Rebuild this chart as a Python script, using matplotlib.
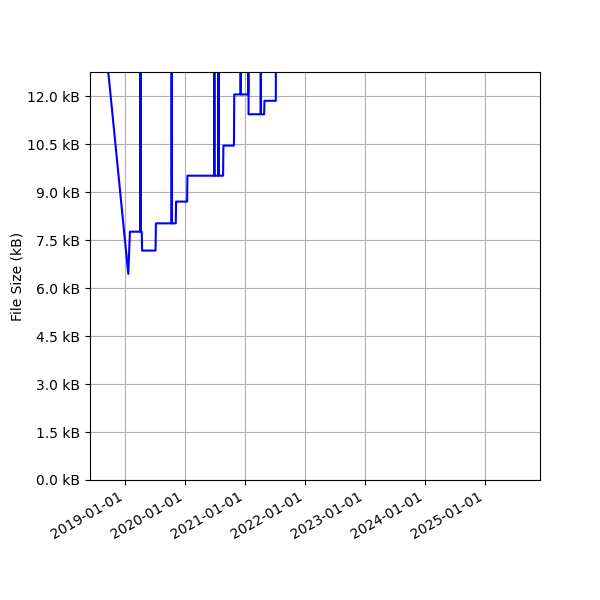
import matplotlib
matplotlib.use("Agg")
import matplotlib.pyplot as plt
import matplotlib.dates as mdates
from matplotlib.ticker import FuncFormatter, MultipleLocator
import pandas as pd

# Commit dates and file sizes (kB); values above ~12.75 fall outside the view
dates = [
    "2018-09-01", "2019-01-21", "2019-01-31",
    "2019-04-03", "2019-04-05", "2019-04-07", "2019-04-13", "2019-04-15",
    "2019-07-06", "2019-07-08",
    "2019-10-11", "2019-10-12", "2019-10-13",
    "2019-11-06", "2019-11-08",
    "2020-01-14", "2020-01-16",
    "2020-06-27", "2020-06-28", "2020-06-29",
    "2020-07-22", "2020-07-23", "2020-07-24",
    "2020-08-20", "2020-08-22",
    "2020-10-25", "2020-10-27",
    "2020-12-04", "2020-12-05", "2020-12-06",
    "2021-01-20", "2021-01-21", "2021-01-22",
    "2021-04-05", "2021-04-06", "2021-04-08",
    "2021-04-27", "2021-04-29",
    "2021-07-07", "2021-07-09",
    "2022-03-15", "2023-02-10", "2024-05-20", "2025-07-30",
]
sizes_kb = [
    13.8, 6.44, 7.76,
    7.76, 25.0, 7.76, 7.76, 7.17,
    7.17, 8.02,
    8.02, 25.0, 8.02,
    8.02, 8.70,
    8.70, 9.51,
    9.51, 25.0, 9.51,
    9.51, 25.0, 9.51,
    9.51, 10.45,
    10.45, 12.05,
    12.05, 25.0, 12.05,
    12.05, 25.0, 11.43,
    11.43, 25.0, 11.43,
    11.43, 11.85,
    11.85, 25.0,
    26.0, 28.0, 30.0, 31.0,
]

x = pd.to_datetime(dates)

fig = plt.figure(figsize=(6, 6), dpi=100)
ax = fig.add_subplot(111)
ax.plot(x, sizes_kb, color="blue", linewidth=1.5)

ax.set_ylim(0, 12.75)
ax.set_xlim(pd.Timestamp("2018-06-02"), pd.Timestamp("2025-12-01"))
ax.yaxis.set_major_locator(MultipleLocator(1.5))
ax.yaxis.set_major_formatter(FuncFormatter(lambda v, p: f"{v:.1f} kB"))
ax.xaxis.set_major_locator(mdates.YearLocator())
ax.xaxis.set_major_formatter(mdates.DateFormatter("%Y-%m-%d"))
ax.set_ylabel("File Size (kB)", labelpad=2)
ax.grid(True)

fig.autofmt_xdate()
fig.subplots_adjust(left=0.15, bottom=0.2, right=0.9, top=0.88)
fig.savefig("out.png", dpi=100)
